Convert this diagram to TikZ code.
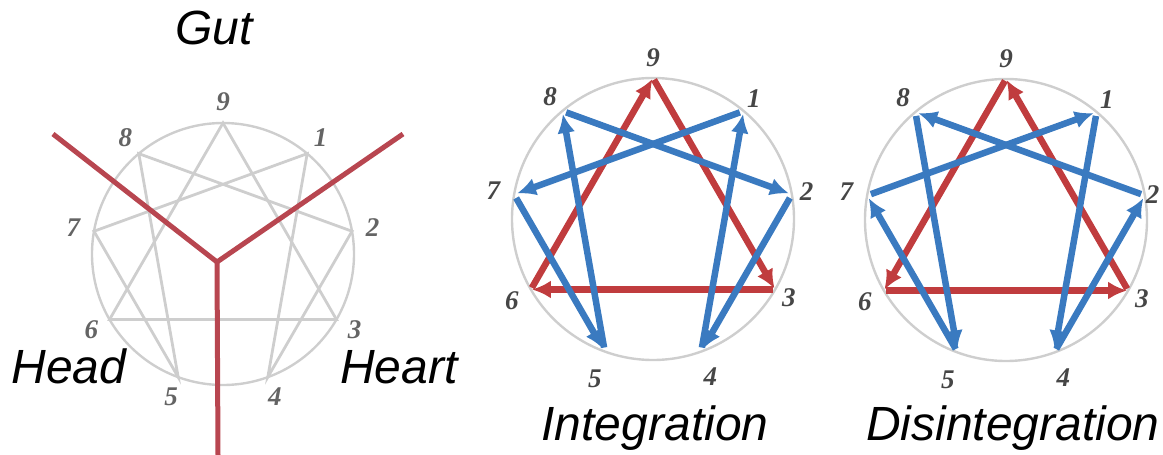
\documentclass[tikz,border=0pt]{standalone}
\usepackage{fontspec}
\setmainfont{Liberation Serif}
\setsansfont{Liberation Sans}
\usetikzlibrary{arrows.meta, calc}

\definecolor{ennred}{RGB}{192,60,62}
\definecolor{yred}{RGB}{184,70,80}
\definecolor{ennblue}{RGB}{58,122,192}
\definecolor{ringgray}{RGB}{206,206,206}
\definecolor{numgray}{RGB}{70,70,70}
\definecolor{numlight}{RGB}{100,100,100}

\begin{document}
\begin{tikzpicture}[x=1pt, y=-1pt,
    ring/.style={draw=ringgray, line width=2.4pt},
    chord/.style={draw=ringgray, line width=2.8pt},
    num/.style={font=\fontsize{27}{27}\selectfont\bfseries\itshape, text=numgray, inner sep=0pt},
    title/.style={font=\fontsize{48}{48}\selectfont\sffamily\itshape, inner sep=0pt, anchor=base},
    yline/.style={draw=yred, line width=5pt},
    redarr/.style={-{Latex[length=19pt,width=18pt]}, ennred, line width=6.5pt,
                   shorten <=2pt, shorten >=1pt},
    bluearr/.style={-{Latex[length=19pt,width=18pt]}, ennblue, line width=6.5pt,
                    shorten <=4pt, shorten >=3pt}]
  \useasboundingbox (0,0) rectangle (1163,455);

  % centres of the three enneagrams
  \coordinate (lc) at (223,254);
  \coordinate (mc) at (653,219);
  \coordinate (rc) at (1006,220);

  % points on the rings
  \foreach \k in {1,...,9} {
    \coordinate (l\k) at ($(lc)+(40*\k-90:131)$);
    \coordinate (m\k) at ($(mc)+(40*\k-90:141)$);
    \coordinate (r\k) at ($(rc)+(40*\k-90:141)$);
  }

  % left: centres of intelligence
  \draw[ring] (lc) circle (131);
  \draw[chord] (l1) -- (l4) -- (l2) -- (l8) -- (l5) -- (l7) -- cycle;
  \draw[chord] (l9) -- (l3) -- (l6) -- cycle;
  \foreach \k in {1,...,9}
    \node[num, text=numlight] (ln\k) at ($(lc)+(40*\k-90:152)$) {\k};
  \coordinate (yc) at (217,262);
  \coordinate (yl) at (53,134);
  \coordinate (yr) at (403,134);
  \coordinate (yb) at (218,455);
  \draw[yline] (yl) -- (yc) -- (yr);
  \draw[yline] (yc) -- (yb);
  \node[title] (gut) at (214,45) {Gut};
  \node[title] (head) at (69,383) {Head};
  \node[title] (heart) at (399,383) {Heart};

  % middle: integration
  \draw[ring] (mc) circle (141);
  \draw[redarr] (m9) -- (m3);
  \draw[redarr] (m3) -- (m6);
  \draw[redarr] (m6) -- (m9);
  \foreach \a/\b in {1/7, 7/5, 5/8, 8/2, 2/4, 4/1}
    \draw[bluearr] (m\a) -- (m\b);
  \foreach \k/\d in {1/157, 2/156, 3/157, 4/168, 5/170, 6/163, 7/162, 8/160, 9/161}
    \node[num] (mn\k) at ($(mc)+(40*\k-90:\d)$) {\k};
  \node[title] (integ) at (655,440) {Integration};

  % right: disintegration
  \draw[ring] (rc) circle (141);
  \draw[redarr] (r9) -- (r6);
  \draw[redarr] (r6) -- (r3);
  \draw[redarr] (r3) -- (r9);
  \foreach \a/\b in {1/4, 4/2, 2/8, 8/5, 5/7, 7/1}
    \draw[bluearr] (r\a) -- (r\b);
  \foreach \k/\d in {1/157, 2/149, 3/157, 4/168, 5/170, 6/163, 7/162, 8/160, 9/161}
    \node[num] (rn\k) at ($(rc)+(40*\k-90:\d)$) {\k};
  \node[title, anchor=base west] (disinteg) at (866,440) {Disintegration};
\end{tikzpicture}
\end{document}
